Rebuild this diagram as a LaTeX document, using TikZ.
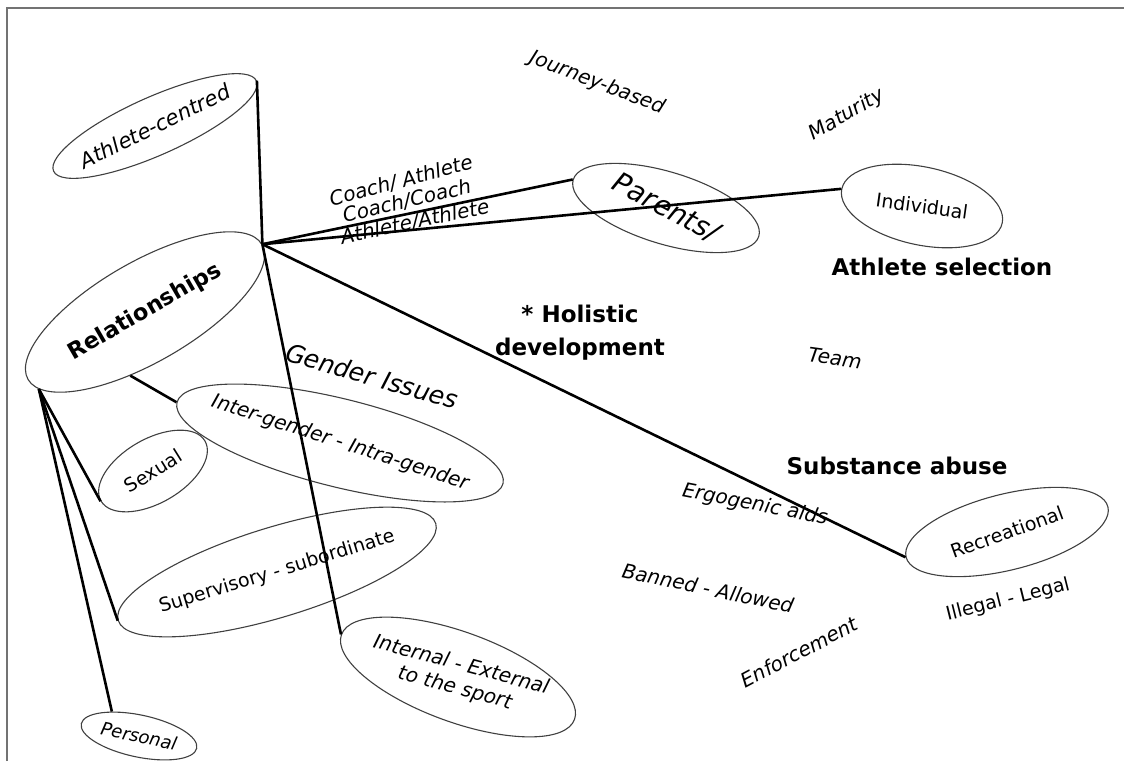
\documentclass[tikz,border=0pt]{standalone}
\usepackage{fontspec}
\setmainfont{DejaVu Sans}
\usetikzlibrary{shapes.geometric}

\tikzset{
  oval/.style={draw=black!75, line width=1.1pt, ellipse, inner sep=0pt},
  link/.style={line width=2.6pt},
  lbl/.style={font=\fontsize{20}{24}\selectfont\itshape, inner sep=0pt, align=center},
  plain/.style={font=\fontsize{19}{23}\selectfont, inner sep=0pt},
  head/.style={font=\fontsize{23}{33}\selectfont\bfseries, inner sep=0pt, align=center}
}

\begin{document}
\begin{tikzpicture}[x=1pt, y=-1pt]
  \useasboundingbox (0,0) rectangle (1124,761);
  \draw[black!55, line width=1.2pt] (7,761) -- (7,8) -- (1124,8);

  \node (athc) at (155,126) [oval, rotate=24, minimum width=222pt, minimum height=58pt] {};
  \node (rel) at (145,312) [oval, rotate=30, minimum width=270pt, minimum height=100pt] {};
  \node (parents) at (666,208) [oval, rotate=-17, minimum width=194pt, minimum height=72pt] {};
  \node (indiv) at (922,206) [oval, rotate=-12, minimum width=164pt, minimum height=78pt] {};
  \node (recr) at (1007,532) [oval, rotate=14, minimum width=208pt, minimum height=76pt] {};
  \node (inter) at (340,443) [oval, rotate=-14, minimum width=336pt, minimum height=88pt] {};
  \node (sexual) at (153,471) [oval, rotate=30, minimum width=120pt, minimum height=64pt] {};
  \node (superv) at (277,572) [oval, rotate=17, minimum width=332pt, minimum height=90pt] {};
  \node (intext) at (458,677) [oval, rotate=-20, minimum width=248pt, minimum height=90pt] {};
  \node (personal) at (139,736) [oval, rotate=-12, minimum width=118pt, minimum height=42pt] {};

  \node (athctxt) at (athc) [lbl, font=\fontsize{21}{25}\selectfont\itshape, rotate=26] {Athlete-centred};
  \node (reltxt) at (rel) [head, font=\fontsize{22.5}{27}\selectfont\bfseries, rotate=30] {Relationships};
  \node (parentstxt) at (parents) [lbl, font=\fontsize{28}{32}\selectfont\itshape, rotate=-28] {Parents/};
  \node (indivtxt) at (indiv) [plain, rotate=-8] {Individual};
  \node (recrtxt) at (recr) [plain, rotate=20] {Recreational};
  \node (intertxt) at (inter) [lbl, rotate=-18] {Inter-gender - Intra-gender};
  \node (sexualtxt) at (sexual) [plain, rotate=32] {Sexual};
  \node (supervtxt) at (superv) [plain, rotate=17] {Supervisory - subordinate};
  \node (intexttxt) at (intext) [lbl, rotate=-15] {Internal - External\\to the sport};
  \node (personaltxt) at (personal) [lbl, font=\fontsize{18}{22}\selectfont\itshape, rotate=-12] {Personal};

  \node (journey) at (597,83) [lbl, rotate=-21] {Journey-based};
  \node (maturity) at (847,115) [lbl, rotate=30] {Maturity};
  \node (coachath) at (401,181) [lbl, rotate=15] {Coach/ Athlete};
  \node (coachcoach) at (407,201) [lbl, rotate=13] {Coach/Coach};
  \node (athath) at (415,222) [lbl, rotate=12] {Athlete/Athlete};
  \node (select) at (942,267) [head] {Athlete selection};
  \node (holistic) at (580,333) [head] {* Holistic\\development};
  \node (team) at (835,358) [lbl, rotate=-8] {Team};
  \node (gender) at (372,376) [lbl, font=\fontsize{25}{29}\selectfont\itshape, rotate=-16] {Gender Issues};
  \node (substance) at (897,466) [head] {Substance abuse};
  \node (ergo) at (755,505) [lbl, rotate=-11] {Ergogenic aids};
  \node (banned) at (708,588) [lbl, rotate=-12] {Banned - Allowed};
  \node (illegal) at (1008,600) [plain, rotate=14] {Illegal - Legal};
  \node (enforce) at (799,652) [lbl, rotate=28] {Enforcement};

  \draw[link] (rel.east) -- (athc.east);
  \draw[link] (rel.east) -- (parents.west);
  \draw[link] (rel.east) -- (indiv.west);
  \draw[link] (rel.east) -- (recr.west);
  \draw[link] (rel.east) -- (intext.west);
  \draw[link] (rel.227) -- (inter.west);
  \draw[link] (rel.186) -- (sexual.west);
  \draw[link] (rel.186) -- (superv.west);
  \draw[link] (rel.186) -- (personal.150);
\end{tikzpicture}
\end{document}
